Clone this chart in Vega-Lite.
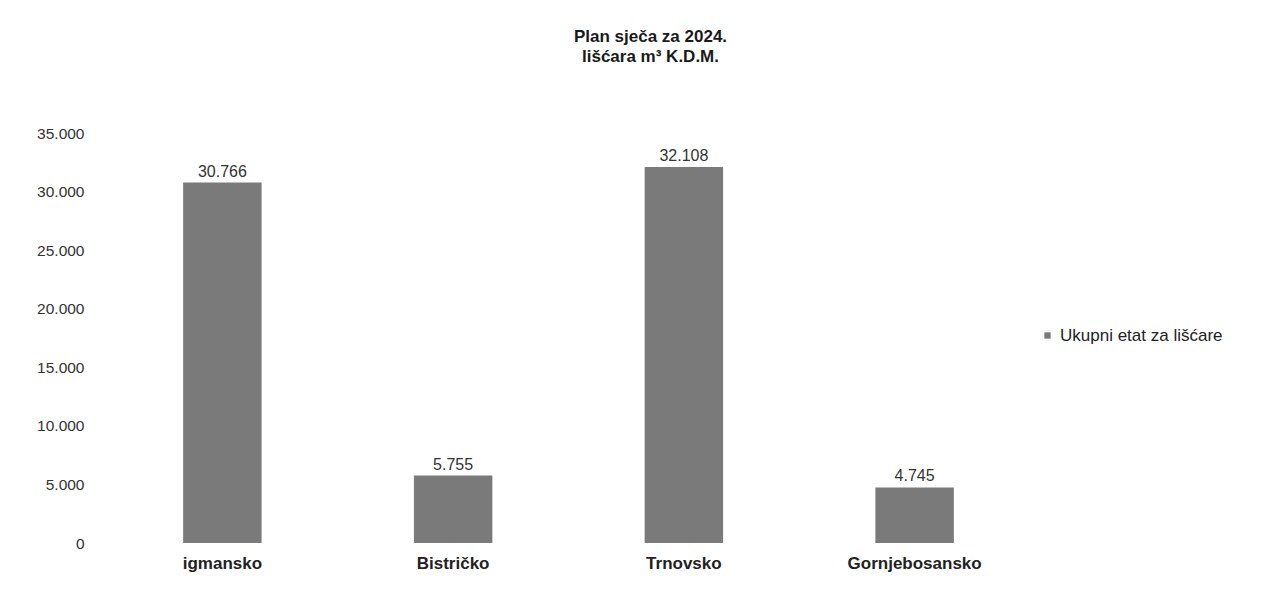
{
  "$schema": "https://vega.github.io/schema/vega-lite/v6.json",
  "autosize": "none",
  "width": 923,
  "height": 410,
  "padding": {"left": 107, "top": 133, "right": 255, "bottom": 69},
  "background": "white",
  "title": {
    "text": ["Plan sječa za 2024.", "lišćara m³ K.D.M."],
    "font": "Liberation Sans",
    "fontSize": 17,
    "fontWeight": "bold",
    "color": "#1a1a1a",
    "anchor": "middle",
    "dx": 82,
    "offset": 60,
    "lineHeight": 20
  },
  "data": {
    "values": [
      {"podrucje": "igmansko", "vrijednost": 30766, "serija": "Ukupni etat za lišćare"},
      {"podrucje": "Bistričko", "vrijednost": 5755, "serija": "Ukupni etat za lišćare"},
      {"podrucje": "Trnovsko", "vrijednost": 32108, "serija": "Ukupni etat za lišćare"},
      {"podrucje": "Gornjebosansko", "vrijednost": 4745, "serija": "Ukupni etat za lišćare"}
    ]
  },
  "config": {
    "view": {"stroke": null},
    "font": "Liberation Sans",
    "locale": {
      "number": {"decimal": ",", "thousands": ".", "grouping": [3], "currency": ["", ""]}
    }
  },
  "encoding": {
    "x": {
      "field": "podrucje",
      "type": "nominal",
      "sort": null,
      "scale": {"paddingInner": 0.66, "paddingOuter": 0.33},
      "axis": {
        "title": null,
        "labelAngle": 0,
        "domain": false,
        "ticks": false,
        "labelFontSize": 17,
        "labelFontWeight": "bold",
        "labelFont": "Liberation Sans",
        "labelColor": "#222",
        "labelPadding": 12
      }
    },
    "y": {
      "field": "vrijednost",
      "type": "quantitative",
      "scale": {"domain": [0, 35000]},
      "axis": {
        "title": null,
        "values": [0, 5000, 10000, 15000, 20000, 25000, 30000, 35000],
        "format": ",d",
        "domain": false,
        "ticks": false,
        "grid": false,
        "labelFontSize": 15.5,
        "labelColor": "#333",
        "labelPadding": 23
      }
    }
  },
  "layer": [
    {
      "mark": {"type": "bar", "color": "#7a7a7a"},
      "encoding": {
        "color": {
          "field": "serija",
          "type": "nominal",
          "scale": {"range": ["#7a7a7a"]},
          "legend": {
            "title": null,
            "orient": "none",
            "legendX": 932,
            "legendY": 194,
            "symbolType": "square",
            "symbolSize": 40,
            "labelFontSize": 17,
            "labelLimit": 400,
            "labelColor": "#222",
            "labelFont": "Liberation Sans"
          }
        }
      }
    },
    {
      "mark": {"type": "text", "dy": -11, "fontSize": 16, "color": "#333"},
      "encoding": {
        "text": {"field": "vrijednost", "type": "quantitative", "format": ",d"}
      }
    }
  ]
}
